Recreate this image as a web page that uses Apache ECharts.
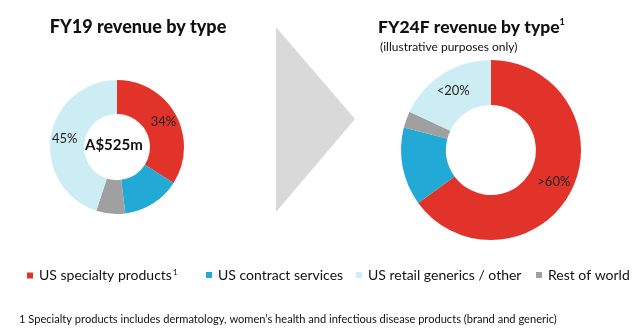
<!DOCTYPE html>
<html>
<head>
<meta charset="utf-8">
<script src="https://cdn.jsdelivr.net/npm/echarts@6/dist/echarts.min.js"></script>
<style>
html,body{margin:0;padding:0;background:#fff;}
#c{width:634px;height:335px;}
</style>
</head>
<body>
<div id="c"></div>
<script>
const categories = ['US specialty products', 'US contract services', 'US retail generics / other', 'Rest of world'];
const colors = ['#e2332a', '#23a9d6', '#cdedf4', '#a0a0a0'];
// values in category order
const fy19Values = [34, 14, 45, 7];
const fy19Labels = ['34%', '', '45%', ''];
const fy24Values = [65, 14, 18, 3];
const fy24Labels = ['>60%', '', '<20%', ''];
// order the slices run clockwise from 12 o'clock
const ringOrder = [0, 1, 3, 2];
const legendLeft = [22, 201, 351, 531];

const FONT = 'Lato, "Open Sans", sans-serif';

function buildData(values, labels) {
  return ringOrder.map(i => ({
    name: categories[i],
    value: values[i],
    itemStyle: { color: colors[i] },
    label: { show: labels[i] !== '', formatter: labels[i] }
  }));
}

const chart = echarts.init(document.getElementById('c'));
chart.setOption({
  animation: false,
  textStyle: { fontFamily: FONT },
  title: [
    {
      text: 'FY19 revenue by type',
      left: 133, top: 13, textAlign: 'center',
      textStyle: { fontFamily: FONT, fontWeight: 900, fontSize: 18, color: '#111' }
    },
    {
      text: '{t|FY24F revenue by type}{s|1}',
      left: 373, top: 13,
      textStyle: {
        rich: {
          t: { fontFamily: FONT, fontWeight: 900, fontSize: 17.5, color: '#111' },
          s: { fontFamily: FONT, fontWeight: 'bold', fontSize: 9, color: '#111', verticalAlign: 'top', padding: [0, 0, 9, 0] }
        }
      }
    },
    {
      text: '(illustrative purposes only)',
      left: 375, top: 36,
      textStyle: { fontFamily: FONT, fontWeight: 'normal', fontSize: 12, color: '#111' }
    },
    {
      text: '1 Specialty products includes dermatology, women\u2019s health and infectious disease products (brand and generic)',
      left: 14, top: 309,
      textStyle: { fontFamily: FONT, fontWeight: 'normal', fontSize: 11.1, color: '#111' }
    }
  ],
  legend: categories.map((name, i) => ({
    data: [name],
    left: legendLeft[i],
    top: 263,
    icon: 'rect',
    itemWidth: 6,
    itemHeight: 6,
    selectedMode: false,
    formatter: i === 0 ? '{a|{name}}{s|1}' : '{a|{name}}',
    textStyle: {
      color: '#111',
      fontSize: 14,
      padding: [0, 0, 0, 1],
      rich: {
        a: { fontFamily: FONT, fontSize: 14, color: '#111' },
        s: { fontFamily: FONT, fontSize: 8, color: '#111', verticalAlign: 'top', padding: [0, 0, 7, 1] }
      }
    }
  })),
  graphic: [
    {
      type: 'polygon',
      shape: { points: [[276, 27], [355, 119], [276, 212]] },
      style: { fill: '#d9d9d9' },
      z: 0
    },
    {
      type: 'text',
      left: 85, top: 138,
      style: { text: 'A$525m', font: 'bold 15px ' + FONT, fill: '#111' }
    }
  ],
  series: [
    {
      type: 'pie',
      center: [117, 147],
      radius: [33, 67],
      startAngle: 90,
      clockwise: true,
      silent: true,
      label: { position: 'inside', fontSize: 13, color: '#222', fontFamily: FONT },
      labelLine: { show: false },
      data: buildData(fy19Values, fy19Labels)
    },
    {
      type: 'pie',
      center: [491, 150],
      radius: [45, 90],
      startAngle: 90,
      clockwise: true,
      silent: true,
      label: { position: 'inside', fontSize: 13, color: '#222', fontFamily: FONT },
      labelLine: { show: false },
      data: buildData(fy24Values, fy24Labels)
    }
  ]
});
</script>
</body>
</html>
